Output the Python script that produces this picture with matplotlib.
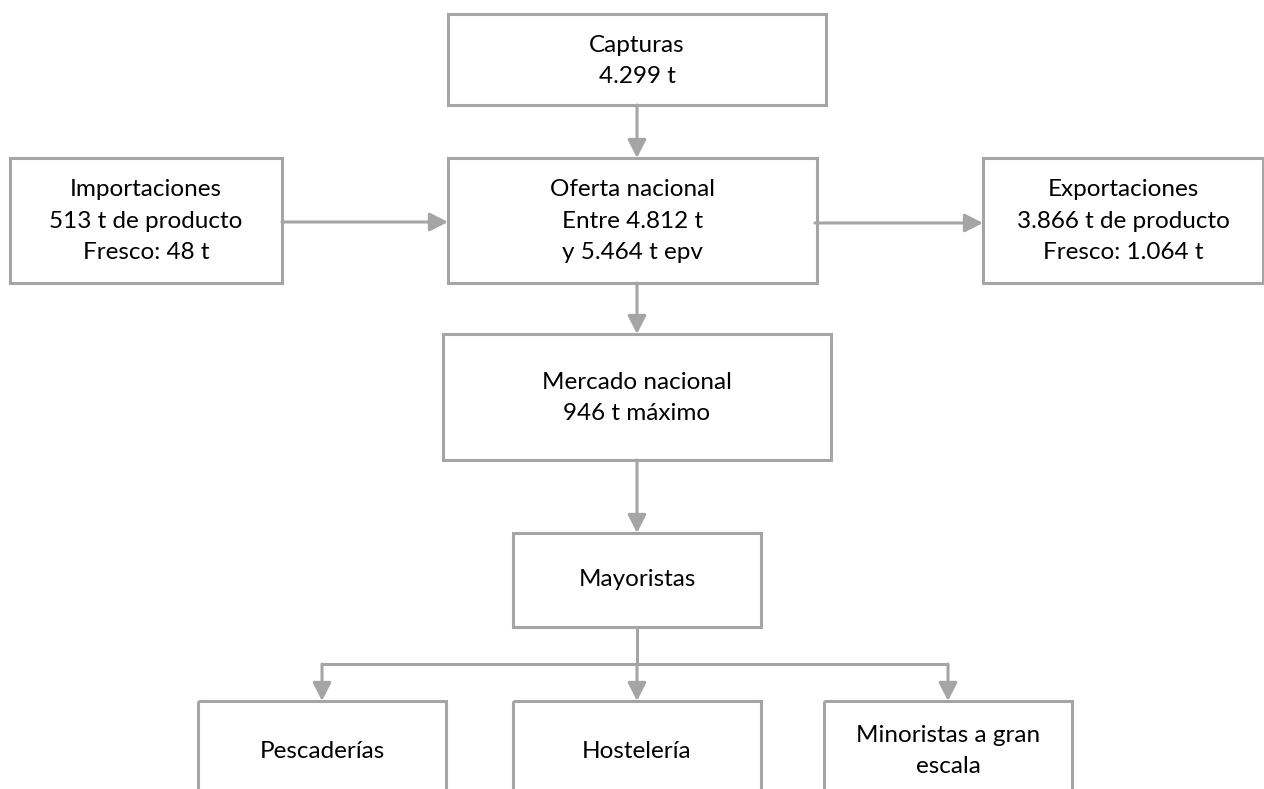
import matplotlib.pyplot as plt
from matplotlib.patches import Rectangle

plt.rcParams['font.family'] = ['Lato', 'DejaVu Sans']

# box labels
labels = [
    'Capturas\n4.299 t',
    'Importaciones\n513 t de producto\nFresco: 48 t',
    'Oferta nacional\nEntre 4.812 t\ny 5.464 t epv',
    'Exportaciones\n3.866 t de producto\nFresco: 1.064 t',
    'Mercado nacional\n946 t máximo',
    'Mayoristas',
    'Pescaderías',
    'Hostelería',
    'Minoristas a gran\nescala',
]

# layout in pixels: left, top, right, bottom (y grows downward)
boxes = [
    (448, 14, 826, 105),
    (10, 158, 282, 283),
    (448, 158, 817, 283),
    (983, 158, 1263, 283),
    (443, 334, 831, 460),
    (513, 533, 761, 627),
    (198, 701, 446, 900),
    (513, 701, 761, 900),
    (824, 701, 1072, 900),
]
text_y = [61, 221, 221, 221, 398, 580, 751, 751, 751]

# arrows: (x0, y0, x1, y1)
arrows = [
    (637, 105, 637, 158),
    (282, 222, 448, 222),
    (815, 223, 983, 223),
    (637, 283, 637, 334),
    (637, 460, 637, 533),
    (322, 664, 322, 701),
    (637, 664, 637, 701),
    (948, 664, 948, 701),
]
branch = [(637, 627, 637, 664), (322, 664, 948, 664)]

grey = '#a5a5a5'
lw = 2.2

fig = plt.figure(figsize=(12.64, 7.89), dpi=100)
ax = fig.add_axes([0, 0, 1, 1])
ax.set_xlim(0, 1264)
ax.set_ylim(789, 0)
ax.axis('off')

for (x0, y0, x1, y1), lab, ty in zip(boxes, labels, text_y):
    ax.add_patch(Rectangle((x0, y0), x1 - x0, y1 - y0, fill=False,
                           edgecolor=grey, lw=lw))
    ax.text((x0 + x1) / 2, ty, lab, ha='center', va='center',
            fontsize=17.5, color='black', linespacing=1.6)

for x0, y0, x1, y1 in branch:
    ax.plot([x0, x1], [y0, y1], color=grey, lw=lw, solid_capstyle='butt')

for x0, y0, x1, y1 in arrows:
    ax.annotate('', xy=(x1, y1), xytext=(x0, y0),
                arrowprops=dict(arrowstyle='-|>,head_length=0.55,head_width=0.28',
                                mutation_scale=20, color=grey, lw=lw,
                                shrinkA=0, shrinkB=0))

fig.savefig('out.png', dpi=100)
